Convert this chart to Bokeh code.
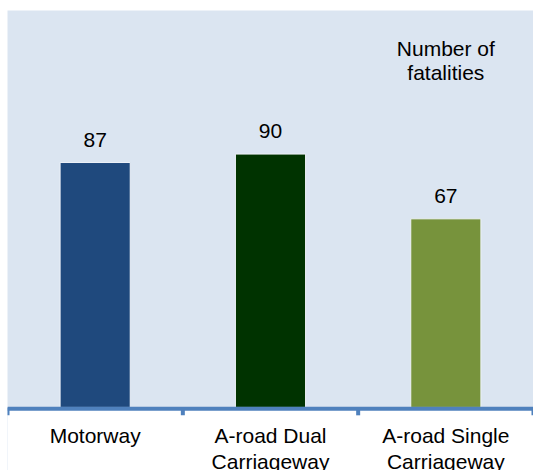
from bokeh.plotting import figure
from bokeh.models import Range1d, ColumnDataSource, Label, Span
from bokeh.core.properties import value
from bokeh.embed import file_html
from bokeh.resources import INLINE

# Road-type fatalities
categories = ["Motorway", "A-road Dual Carriageway", "A-road Single Carriageway"]
tick_labels = ["Motorway", "A-road Dual\nCarriageway", "A-road Single\nCarriageway"]
fatalities = [87, 90, 67]
bar_colors = ["#1f497d", "#003300", "#77933c"]

FONT = "Liberation Sans"
FONT_SIZE = "21px"
AXIS_BLUE = "#4f81bd"

n = len(categories)
xs = [i + 0.5 for i in range(n)]
boundaries = list(range(n + 1))

Y_TOP = 141
Y_BOTTOM = -22.4          # room under the baseline for the category names
TICK_LEN = 2.8            # tick mark length in data units (~8 px)
CAT_Y = -6.0              # top of the category names

src = ColumnDataSource(dict(
    x=xs,
    cat=categories,
    tick=tick_labels,
    value=fatalities,
    label=[str(v) for v in fatalities],
    color=bar_colors,
    cat_y=[CAT_Y] * n,
))

p = figure(
    width=533, height=470,
    output_backend="svg", toolbar_location=None,
    x_range=Range1d(0, n), y_range=Range1d(Y_BOTTOM, Y_TOP),
    min_border_left=7, min_border_right=0, min_border_top=10, min_border_bottom=0,
    x_axis_location=None, y_axis_location=None,
)
p.background_fill_color = "#dbe5f1"
p.border_fill_color = "white"
p.outline_line_color = None
p.grid.visible = False

# white band under the baseline
p.quad(left=0, right=n, bottom=Y_BOTTOM, top=0, fill_color="white", line_color=None)

p.vbar(x="x", top="value", width=0.4, fill_color="color",
       line_color="#eef2f8", line_width=1, source=src)

# baseline with tick marks at category boundaries
p.segment(x0=boundaries, x1=boundaries, y0=[0] * (n + 1), y1=[-TICK_LEN] * (n + 1),
          line_color=AXIS_BLUE, line_width=4)
p.add_layout(Span(location=-0.5, dimension="width", line_color=AXIS_BLUE, line_width=4))

# value labels above bars
p.text(x="x", y="value", text="label", source=src,
       text_align="center", text_baseline="alphabetic", y_offset=-23,
       text_font=value(FONT), text_font_size=FONT_SIZE, text_color="black")

# category names under the baseline
p.text(x="x", y="cat_y", text="tick", source=src,
       text_align="center", text_baseline="top", text_line_height=1.1,
       text_font=value(FONT), text_font_size=FONT_SIZE, text_color="black")

p.add_layout(Label(x=2.5, y=131.7, text="Number of\nfatalities",
                   text_align="center", text_baseline="top",
                   text_font=FONT, text_font_size=FONT_SIZE,
                   text_line_height=1.05, text_color="black"))

open("out.html", "w").write(file_html(p, INLINE))
